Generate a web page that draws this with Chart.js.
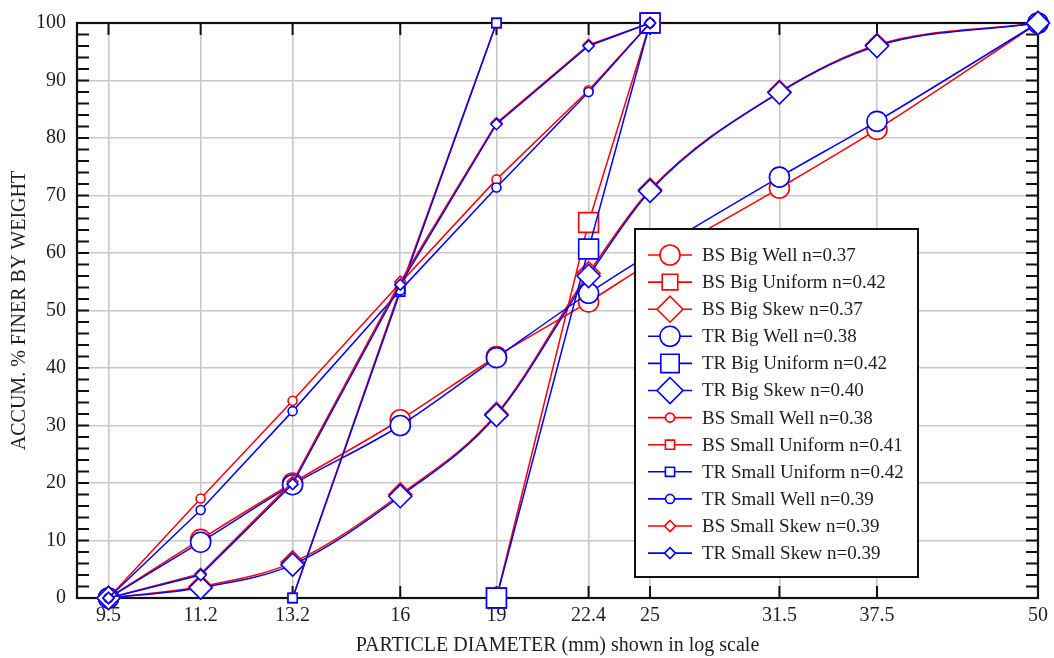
<!DOCTYPE html>
<html><head><meta charset="utf-8">
<script src="https://cdn.jsdelivr.net/npm/chart.js@4.4.1/dist/chart.umd.min.js"></script>
<style>html,body{margin:0;padding:0;background:#fff;}canvas{display:block;}</style>
</head><body>
<canvas id="c" width="1054" height="658"></canvas>
<script>
// ---- data ----
const sieveSizes = [9.5, 11.2, 13.2, 16, 19, 22.4, 25, 31.5, 37.5, 50];
const xTickLabels = ['9.5', '11.2', '13.2', '16', '19', '22.4', '25', '31.5', '37.5', '50'];
const yTicks = [0, 10, 20, 30, 40, 50, 60, 70, 80, 90, 100];

const bsBigWell      = [0, 10.2, 20.0, 31.0, 42.0, 51.5, 58.3, 71.3, 81.5, 100];
const bsBigUniform   = [null, null, null, null, 0, 65.3, 100, null, null, null];
const bsBigSkew      = [0, 2.0, 6.2, 18.0, 32.0, 56.5, 71.0, 88.0, 96.2, 100];
const trBigWell      = [0, 9.7, 19.7, 30.0, 41.8, 53.0, 59.8, 73.2, 82.9, 100];
const trBigUniform   = [null, null, null, null, 0, 60.7, 100, null, null, null];
const trBigSkew      = [0, 1.8, 5.8, 17.7, 31.8, 56.0, 70.8, 87.9, 96.0, 100];
const bsSmallWell    = [0, 17.3, 34.3, 54.8, 72.8, 88.3, 100, null, null, null];
const bsSmallUniform = [null, null, 0, 53.8, 100, null, null, null, null, null];
const trSmallUniform = [null, null, 0, 53.3, 100, null, null, null, null, null];
const trSmallWell    = [0, 15.3, 32.5, 53.5, 71.4, 88.0, 100, null, null, null];
const bsSmallSkew    = [0, 4.2, 20.2, 55.0, 82.6, 96.2, 100, null, null, null];
const trSmallSkew    = [0, 4.0, 19.8, 54.5, 82.4, 96.0, 100, null, null, null];

const seriesNames = [
  'BS Big Well n=0.37', 'BS Big Uniform n=0.42', 'BS Big Skew n=0.37',
  'TR Big Well n=0.38', 'TR Big Uniform n=0.42', 'TR Big Skew n=0.40',
  'BS Small Well n=0.38', 'BS Small Uniform n=0.41', 'TR Small Uniform n=0.42',
  'TR Small Well n=0.39', 'BS Small Skew n=0.39', 'TR Small Skew n=0.39'
];
const seriesValues = [bsBigWell, bsBigUniform, bsBigSkew, trBigWell, trBigUniform, trBigSkew,
  bsSmallWell, bsSmallUniform, trSmallUniform, trSmallWell, bsSmallSkew, trSmallSkew];

// ---- styles ----
const RED = '#ff0000', BLUE = '#0000ff';
const styles = [
  {c: RED,  p: 'circle',  r: 10,  lr: 10,  curve: true},
  {c: RED,  p: 'rect',    r: 14,  lr: 11,  curve: false},
  {c: RED,  p: 'rectRot', r: 11.5,lr: 13,  curve: true},
  {c: BLUE, p: 'circle',  r: 10,  lr: 10,  curve: true},
  {c: BLUE, p: 'rect',    r: 14,  lr: 13,  curve: false},
  {c: BLUE, p: 'rectRot', r: 11.5,lr: 13,  curve: true},
  {c: RED,  p: 'circle',  r: 4.5, lr: 4.5, curve: false},
  {c: RED,  p: 'rect',    r: 6.5, lr: 6.5, curve: false},
  {c: BLUE, p: 'rect',    r: 6.5, lr: 6.5, curve: false},
  {c: BLUE, p: 'circle',  r: 4.5, lr: 4.5, curve: false},
  {c: RED,  p: 'rectRot', r: 5.5, lr: 5.5, curve: false},
  {c: BLUE, p: 'rectRot', r: 5.5, lr: 5.5, curve: false}
];

const FONT = '"Liberation Serif", "Times New Roman", serif';
const TEXT = '#1e1e1e';

const datasets = seriesValues.map((vals, i) => {
  const s = styles[i];
  const pts = [];
  vals.forEach((v, k) => { if (v !== null) pts.push({x: sieveSizes[k], y: v}); });
  return {
    label: seriesNames[i],
    data: pts,
    borderColor: s.c,
    backgroundColor: '#ffffff',
    borderWidth: 1.5,
    pointStyle: s.p,
    pointRadius: s.r,
    pointBorderWidth: 1.6,
    pointBorderColor: s.c,
    pointBackgroundColor: '#ffffff',
    cubicInterpolationMode: s.curve ? 'monotone' : 'default',
    tension: 0,
    fill: false,
    clip: false,
    order: 100 - i
  };
});

function drawMarker(ctx, style, r, x, y) {
  ctx.beginPath();
  if (style === 'circle') {
    ctx.arc(x, y, r, 0, Math.PI * 2);
  } else if (style === 'rect') {
    const h = r * Math.SQRT1_2;
    ctx.rect(x - h, y - h, 2 * h, 2 * h);
  } else {
    ctx.moveTo(x, y - r); ctx.lineTo(x + r, y); ctx.lineTo(x, y + r); ctx.lineTo(x - r, y); ctx.closePath();
  }
  ctx.fill(); ctx.stroke();
}

const framePlugin = {
  id: 'frame',
  beforeDatasetsDraw(chart) {
    const {ctx, chartArea: a, scales} = chart;
    ctx.save();
    ctx.strokeStyle = '#111';
    ctx.lineWidth = 2;
    const tl = 12;
    ctx.beginPath();
    for (let v = 2; v < 100; v += 2) {
      const y = scales.y.getPixelForValue(v);
      ctx.moveTo(a.left, y); ctx.lineTo(a.left + tl, y);
      ctx.moveTo(a.right, y); ctx.lineTo(a.right - tl, y);
    }
    sieveSizes.forEach(s => {
      const x = scales.x.getPixelForValue(s);
      if (x > a.left + 2 && x < a.right - 2) {
        ctx.moveTo(x, a.top); ctx.lineTo(x, a.top + tl);
        ctx.moveTo(x, a.bottom); ctx.lineTo(x, a.bottom - tl);
      }
    });
    ctx.stroke();
    ctx.lineWidth = 2.2;
    ctx.strokeRect(a.left, a.top, a.right - a.left, a.bottom - a.top);
    ctx.restore();
  }
};

const legendPlugin = {
  id: 'boxLegend',
  afterDraw(chart) {
    const ctx = chart.ctx;
    const bx = 635, by = 229, bw = 283, bh = 348;
    ctx.save();
    ctx.fillStyle = '#ffffff';
    ctx.fillRect(bx, by, bw, bh);
    ctx.strokeStyle = '#111';
    ctx.lineWidth = 2;
    ctx.strokeRect(bx, by, bw, bh);
    const row0 = 255, step = 27.1;
    seriesNames.forEach((name, i) => {
      const s = styles[i];
      const y = row0 + i * step;
      ctx.strokeStyle = s.c;
      ctx.lineWidth = 1.6;
      ctx.beginPath(); ctx.moveTo(648, y); ctx.lineTo(692, y); ctx.stroke();
      ctx.fillStyle = '#ffffff';
      drawMarker(ctx, s.p, s.lr, 670, y);
      ctx.fillStyle = TEXT;
      ctx.font = '19px ' + FONT;
      ctx.textAlign = 'left';
      ctx.textBaseline = 'middle';
      ctx.fillText(name, 702, y + 1);
    });
    ctx.restore();
  }
};

new Chart(document.getElementById('c'), {
  type: 'line',
  data: {datasets},
  options: {
    responsive: false,
    animation: false,
    events: [],
    layout: {padding: {left: 0, right: 12, top: 22, bottom: 0}},
    plugins: {legend: {display: false}, tooltip: {enabled: false}},
    scales: {
      x: {
        type: 'logarithmic',
        min: 8.98,
        max: 50,
        afterBuildTicks: (scale) => { scale.ticks = sieveSizes.map(v => ({value: v})); },
        afterFit: (scale) => { scale.height = 60; },
        ticks: {
          autoSkip: false, maxRotation: 0, minRotation: 0,
          font: {family: FONT, size: 20}, color: TEXT, padding: 6,
          callback: (v, i) => xTickLabels[i]
        },
        grid: {color: '#c8c8c8', lineWidth: 1.6, drawTicks: false},
        border: {display: false},
        title: {display: true, text: 'PARTICLE DIAMETER (mm) shown in log scale',
          font: {family: FONT, size: 20}, color: TEXT, padding: {top: 0, bottom: 0}}
      },
      y: {
        min: 0, max: 100,
        afterBuildTicks: (scale) => { scale.ticks = yTicks.map(v => ({value: v})); },
        afterFit: (scale) => { scale.width = 77; },
        ticks: {font: {family: FONT, size: 20}, color: TEXT, padding: 11},
        grid: {color: '#c8c8c8', lineWidth: 1.6, drawTicks: false},
        border: {display: false},
        title: {display: true, text: 'ACCUM. % FINER BY WEIGHT',
          font: {family: FONT, size: 20}, color: TEXT, padding: {top: 8, bottom: 0}}
      }
    }
  },
  plugins: [framePlugin, legendPlugin]
});
</script>
</body></html>
